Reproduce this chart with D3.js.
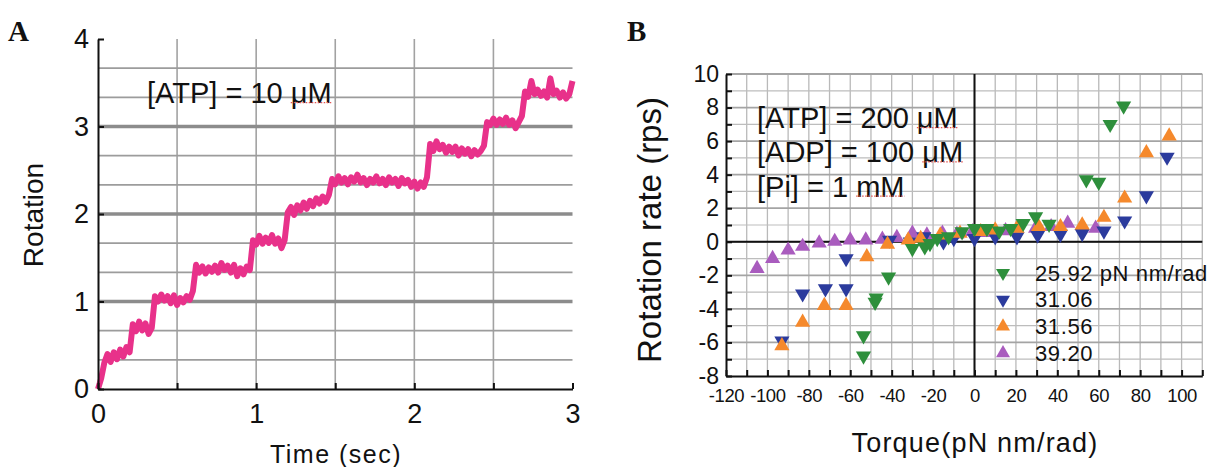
<!DOCTYPE html>
<html>
<head>
<meta charset="utf-8">
<script src="https://cdn.jsdelivr.net/npm/d3@7"></script>
<style>
body { margin: 0; background: #fff; }
svg text { font-family: "Liberation Sans", Arial, sans-serif; fill: #111; }
</style>
</head>
<body>
<div id="canvas"></div>
<script>
// ---------- data, panel A (time in s, rotation in turns) ----------
var traceA = [
[0.00,0.00],[0.02,0.12],[0.04,0.30],[0.06,0.40],[0.08,0.31],[0.10,0.42],[0.12,0.34],[0.14,0.45],[0.16,0.37],[0.18,0.48],
[0.20,0.42],[0.22,0.74],[0.24,0.66],[0.26,0.77],[0.28,0.67],[0.30,0.75],[0.32,0.63],[0.34,0.70],[0.36,1.06],[0.38,1.00],
[0.40,1.08],[0.42,1.01],[0.44,1.06],[0.46,0.98],[0.48,1.07],[0.50,0.96],[0.52,1.04],[0.54,0.99],[0.56,1.06],[0.58,1.02],
[0.60,1.12],[0.62,1.42],[0.64,1.33],[0.66,1.40],[0.68,1.32],[0.70,1.39],[0.72,1.34],[0.74,1.41],[0.76,1.33],[0.78,1.44],
[0.80,1.36],[0.82,1.41],[0.84,1.33],[0.86,1.42],[0.88,1.29],[0.90,1.38],[0.92,1.31],[0.94,1.40],[0.96,1.36],[0.98,1.70],
[1.00,1.65],[1.02,1.75],[1.04,1.66],[1.06,1.73],[1.08,1.67],[1.10,1.76],[1.12,1.66],[1.14,1.72],[1.16,1.61],[1.18,1.70],
[1.20,2.02],[1.22,2.08],[1.24,1.99],[1.26,2.10],[1.28,2.04],[1.30,2.13],[1.32,2.06],[1.34,2.15],[1.36,2.09],[1.38,2.18],
[1.40,2.12],[1.42,2.20],[1.44,2.14],[1.46,2.22],[1.48,2.40],[1.50,2.34],[1.52,2.43],[1.54,2.36],[1.56,2.41],[1.58,2.34],
[1.60,2.42],[1.62,2.37],[1.64,2.45],[1.66,2.36],[1.68,2.41],[1.70,2.33],[1.72,2.40],[1.74,2.36],[1.76,2.43],[1.78,2.35],
[1.80,2.40],[1.82,2.33],[1.84,2.42],[1.86,2.36],[1.88,2.40],[1.90,2.32],[1.92,2.41],[1.94,2.35],[1.96,2.39],[1.98,2.31],
[2.00,2.37],[2.02,2.29],[2.04,2.36],[2.06,2.31],[2.08,2.42],[2.10,2.80],[2.12,2.72],[2.14,2.83],[2.16,2.74],[2.18,2.79],
[2.20,2.70],[2.22,2.77],[2.24,2.71],[2.26,2.77],[2.28,2.67],[2.30,2.75],[2.32,2.69],[2.34,2.74],[2.36,2.66],[2.38,2.73],
[2.40,2.68],[2.42,2.72],[2.44,2.78],[2.46,3.05],[2.48,3.02],[2.50,3.09],[2.52,3.02],[2.54,3.08],[2.56,3.03],[2.58,3.10],
[2.60,3.02],[2.62,3.07],[2.64,2.98],[2.66,3.05],[2.68,3.12],[2.70,3.40],[2.72,3.34],[2.74,3.52],[2.76,3.37],[2.78,3.42],
[2.80,3.35],[2.82,3.40],[2.84,3.33],[2.86,3.55],[2.88,3.37],[2.90,3.41],[2.92,3.33],[2.94,3.39],[2.96,3.32],[2.98,3.37],
[3.00,3.52]
];
var ticksA_x = [0, 1, 2, 3];
var minorA_x = [0, 0.5, 1, 1.5, 2, 2.5, 3];
var gridA_x = [0.5, 1, 1.5, 2, 2.5];
var ticksA_y = [0, 1, 2, 3, 4];
var gridA_y = [0.333, 0.667, 1, 1.333, 1.667, 2, 2.333, 2.667, 3, 3.333, 3.667];

// ---------- data, panel B (torque pN nm/rad, rotation rate rps) ----------
var green = [[-53.6,-6.8],[-53.6,-5.6],[-48,-3.6],[-47.5,-3.35],[-41.5,-2.1],[-30,-0.4],[-24,-0.3],[-21.5,-0.1],
  [-18,0.2],[-12.5,0.3],[-6,0.6],[0,0.8],[6,0.8],[12,0.65],[17.5,0.8],[23.5,1.1],[29.5,1.5],[36,1.05],
  [54,3.7],[60,3.55],[65.5,7.0],[72,8.1]];
var blue = [[-93,-5.9],[-83,-3.1],[-72,-2.8],[-62,-2.8],[-62,-1.0],[-41,0.1],[-31,0.0],[-24.5,0.3],[-15,0.0],
  [-10,0.2],[0,0.2],[10,0.3],[20.5,0.3],[30.5,0.4],[41.5,0.45],[52,0.5],[62.5,0.65],[72.5,1.25],[83,2.75],[93,5.05]];
var orange = [[-93,-6.2],[-83,-4.8],[-72.5,-3.8],[-62,-3.8],[-52,-0.9],[-42,-0.15],[-32,0.1],[-26,0.2],[-16.5,0.4],
  [-7,0.5],[3,0.6],[10,0.7],[20.5,0.8],[31,0.9],[41.5,0.9],[52,1.0],[62.5,1.45],[72.5,2.6],[83,5.3],[94,6.3]];
var purple = [[-105,-1.6],[-97.5,-1.0],[-90,-0.5],[-83,-0.28],[-75,-0.08],[-67.5,0.02],[-60,0.1],[-52.5,0.1],
  [-44.5,0.15],[-37.5,0.25],[-30,0.5],[-23,0.4],[-15.5,0.5],[-8.5,0.45],[-1,0.6],[6,0.55],[15,0.65],[29.5,0.8],
  [37,0.9],[45,1.1],[58.5,0.8]];
var seriesNames = ["25.92 pN nm/rad", "31.06", "31.56", "39.20"];
var seriesColors = ["#2e8f3c", "#2b3b9d", "#f5892c", "#a95cbe"];
var seriesDown = [true, true, false, false];
var seriesData = [green, blue, orange, purple];
var ticksB_x = [-120, -100, -80, -60, -40, -20, 0, 20, 40, 60, 80, 100];
var gridB_x = d3.range(-110, 111, 10);
var ticksB_y = [-8, -6, -4, -2, 0, 2, 4, 6, 8, 10];
var gridB_y = d3.range(-7, 11, 1);

var svg = d3.select("#canvas").append("svg")
  .attr("width", 1215).attr("height", 467);

// ================= panel A =================
var xA = d3.scaleLinear().domain([0, 3]).range([98, 572.5]);
var yA = d3.scaleLinear().domain([0, 4]).range([389, 39]);
var gA = svg.append("g");

gA.selectAll(".vg").data(gridA_x).enter().append("line")
  .attr("x1", d => xA(d)).attr("x2", d => xA(d))
  .attr("y1", yA(0)).attr("y2", yA(4))
  .attr("stroke", "#a2a2a2").attr("stroke-width", 1.6);

gA.selectAll(".hg").data(gridA_y).enter().append("line")
  .attr("x1", xA(0)).attr("x2", xA(3))
  .attr("y1", d => yA(d)).attr("y2", d => yA(d))
  .attr("stroke", d => d % 1 === 0 ? "#8c8c8c" : "#9c9c9c")
  .attr("stroke-width", d => d % 1 === 0 ? 3.4 : 1.8);

var lineA = d3.line().x(d => xA(d[0])).y(d => yA(d[1]));
gA.append("path").datum(traceA)
  .attr("d", lineA)
  .attr("fill", "none")
  .attr("stroke", "#e8318a")
  .attr("stroke-width", 6)
  .attr("stroke-linejoin", "round");

var axAy = gA.append("g").attr("transform", "translate(" + xA(0) + ",0)")
  .call(d3.axisLeft(yA).tickValues(ticksA_y).tickSize(-6).tickSizeOuter(0).tickPadding(9).tickFormat(d => String(d)));
var axAx = gA.append("g").attr("transform", "translate(0," + yA(0) + ")")
  .call(d3.axisBottom(xA).tickValues(minorA_x).tickSize(-6).tickSizeOuter(0).tickPadding(15)
    .tickFormat(d => ticksA_x.indexOf(d) >= 0 ? String(d) : ""));
[axAy, axAx].forEach(function(ax) {
  ax.select(".domain").attr("stroke", "#111").attr("stroke-width", 2);
  ax.selectAll(".tick line").attr("stroke", "#111").attr("stroke-width", 2);
  ax.selectAll("text").style("font-size", "27px").attr("fill", "#111");
});

gA.append("text").attr("transform", "translate(43,215) rotate(-90)")
  .attr("text-anchor", "middle").style("font-size", "28px").text("Rotation");
gA.append("text").attr("x", 336).attr("y", 463)
  .attr("text-anchor", "middle").style("font-size", "25px").style("letter-spacing", "1.5px")
  .text("Time (sec)");

var atpA = gA.append("text").attr("x", 147).attr("y", 103).style("font-size", "29px");
atpA.append("tspan").text("[ATP] = 10 ");
var muA = atpA.append("tspan").text("μM");

svg.append("text").attr("x", 8).attr("y", 41)
  .style("font-family", "'Liberation Serif', 'DejaVu Serif', serif")
  .style("font-weight", "bold").style("font-size", "29px").text("A");

// ================= panel B =================
var xB = d3.scaleLinear().domain([-120, 110]).range([726, 1202.3]);
var yB = d3.scaleLinear().domain([-8, 10]).range([376, 74]);
var gB = svg.append("g");

gB.selectAll(".vg").data(gridB_x).enter().append("line")
  .attr("x1", d => xB(d)).attr("x2", d => xB(d))
  .attr("y1", yB(-8)).attr("y2", yB(10))
  .attr("stroke", "#b9b9b9").attr("stroke-width", 1.3);
gB.selectAll(".hg").data(gridB_y).enter().append("line")
  .attr("x1", xB(-120)).attr("x2", xB(110))
  .attr("y1", d => yB(d)).attr("y2", d => yB(d))
  .attr("stroke", d => d % 2 === 0 ? "#a4a4a4" : "#bdbdbd")
  .attr("stroke-width", d => d % 2 === 0 ? 1.8 : 1.2);

// zero lines
gB.append("line").attr("x1", xB(0)).attr("x2", xB(0)).attr("y1", yB(-8)).attr("y2", yB(10))
  .attr("stroke", "#111").attr("stroke-width", 2);
gB.append("line").attr("x1", xB(-120)).attr("x2", xB(110)).attr("y1", yB(0)).attr("y2", yB(0))
  .attr("stroke", "#111").attr("stroke-width", 2);

var axBy = gB.append("g").attr("transform", "translate(" + xB(-120) + ",0)")
  .call(d3.axisLeft(yB).tickValues(d3.range(-8, 11, 1)).tickSize(-6).tickSizeOuter(0).tickPadding(7)
    .tickFormat(d => ticksB_y.indexOf(d) >= 0 ? String(d) : ""));
var axBx = gB.append("g").attr("transform", "translate(0," + yB(-8) + ")")
  .call(d3.axisBottom(xB).tickValues(d3.range(-120, 111, 10)).tickSize(-6).tickSizeOuter(0).tickPadding(13)
    .tickFormat(d => ticksB_x.indexOf(d) >= 0 ? String(d) : ""));
[axBy, axBx].forEach(function(ax) {
  ax.select(".domain").attr("stroke", "#111").attr("stroke-width", 2);
  ax.selectAll(".tick line").attr("stroke", "#111").attr("stroke-width", 2);
  ax.selectAll("text").attr("fill", "#111");
});
axBy.selectAll("text").style("font-size", "23px");
axBx.selectAll("text").style("font-size", "18.5px").style("letter-spacing", "-0.4px");

// markers, drawn purple, blue, orange, green
var drawOrder = [3, 1, 2, 0];
var triUp = d3.symbol().type(d3.symbolTriangle).size(100);
drawOrder.forEach(function(i) {
  gB.append("g").selectAll("path").data(seriesData[i]).enter().append("path")
    .attr("d", triUp)
    .attr("transform", d => "translate(" + xB(d[0]) + "," + yB(d[1]) + ")" + (seriesDown[i] ? " rotate(180)" : ""))
    .attr("fill", seriesColors[i]);
});

// legend
var leg = gB.append("g");
seriesNames.forEach(function(name, i) {
  var ly = 273 + i * 26.7;
  leg.append("path").attr("d", d3.symbol().type(d3.symbolTriangle).size(85))
    .attr("transform", "translate(1003," + ly + ")" + (seriesDown[i] ? " rotate(180)" : ""))
    .attr("fill", seriesColors[i]);
  leg.append("text").attr("x", 1035).attr("y", ly + 7.5)
    .style("font-size", "22px").style("letter-spacing", "0.6px").attr("fill", "#1a1a1a").text(name);
});

gB.append("text").attr("transform", "translate(661,230) rotate(-90)")
  .attr("text-anchor", "middle").style("font-size", "33px").text("Rotation rate (rps)");
gB.append("text").attr("x", 975).attr("y", 452)
  .attr("text-anchor", "middle").style("font-size", "27px").style("letter-spacing", "1.2px")
  .text("Torque(pN nm/rad)");

var cond = [["[ATP] = 200 ", "μM"], ["[ADP] = 100 ", "μM"], ["[Pi] = 1 ", "mM"]];
var underlined = [muA];
cond.forEach(function(c, i) {
  var t = gB.append("text").attr("x", 757).attr("y", 128 + i * 34.3).style("font-size", "29px");
  t.append("tspan").text(c[0]);
  underlined.push(t.append("tspan").text(c[1]));
});

// red spell-check squiggles under the units
underlined.forEach(function(ts) {
  var b = ts.node().getBBox();
  svg.append("line").attr("x1", b.x).attr("x2", b.x + b.width)
    .attr("y1", b.y + b.height * 0.8).attr("y2", b.y + b.height * 0.8)
    .attr("stroke", "#e25555").attr("stroke-width", 1.2).attr("stroke-dasharray", "1.5,1.5");
});

svg.append("text").attr("x", 627).attr("y", 41)
  .style("font-family", "'Liberation Serif', 'DejaVu Serif', serif")
  .style("font-weight", "bold").style("font-size", "29px").text("B");
</script>
</body>
</html>
